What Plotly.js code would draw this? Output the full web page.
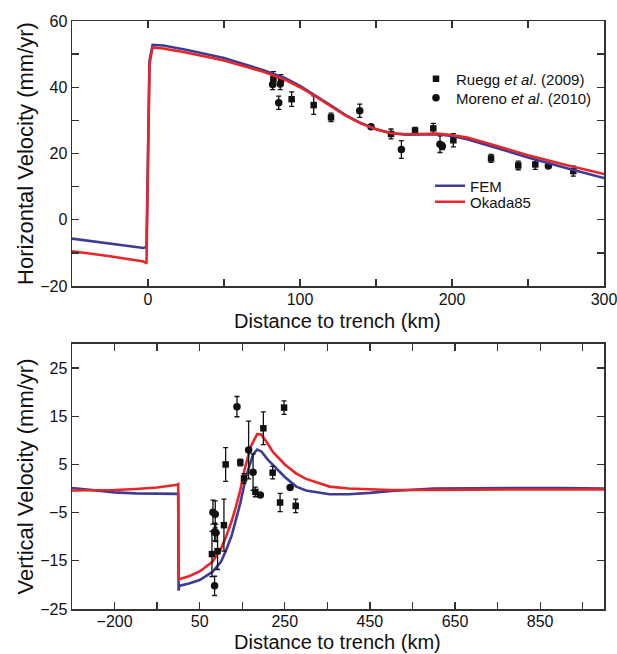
<!DOCTYPE html>
<html>
<head>
<meta charset="utf-8">
<script src="https://cdn.plot.ly/plotly-3.0.1.min.js"></script>
<style>html,body{margin:0;padding:0;background:#fff;}#chart{width:617px;height:654px;}</style>
</head>
<body>
<div id="chart"></div>
<script>
// ---------- Top panel: horizontal velocity ----------
const topFemX  = [-50, -25, -3, -1, 1, 3, 10, 25, 50, 75, 90, 100, 110, 120, 130, 140, 150, 160, 170, 180, 190, 200, 210, 225, 250, 275, 300];
const topFemY  = [-5.7, -7.1, -8.5, -8.2, 48, 52.8, 52.6, 51.3, 48.8, 45.3, 42.8, 40.4, 37.6, 34.6, 31.6, 29.2, 27.3, 26.1, 25.7, 25.8, 25.8, 25.3, 24.3, 22.3, 18.8, 15.6, 12.6];
const topOkaX  = [-50, -25, -3, -1, 1, 3, 10, 25, 50, 75, 90, 100, 110, 120, 130, 140, 150, 160, 170, 180, 190, 200, 210, 225, 250, 275, 300];
const topOkaY  = [-9.5, -11.0, -12.6, -13.2, 47, 52.0, 51.7, 50.5, 48.1, 44.8, 42.3, 40.0, 37.3, 34.3, 31.4, 29.1, 27.3, 26.1, 25.8, 25.9, 26.0, 25.6, 24.8, 22.9, 19.5, 16.5, 13.8];

const topSqX   = [82.5, 87.5, 94.5, 109, 120.4, 159.9, 175.7, 187.7, 200.9, 225.7, 243.6, 254.8, 279.8];
const topSqY   = [42.5, 42.3, 36.4, 34.6, 30.9, 25.9, 26.9, 27.6, 24.0, 18.5, 16.4, 16.7, 14.7];
const topSqErr = [2.2, 1.5, 2.2, 2.8, 1.3, 1.5, 1.0, 1.5, 2.0, 1.2, 1.3, 1.5, 1.5];
const topCiX   = [82, 87, 86, 139.3, 146.7, 166.7, 192.1, 193.6, 263.4];
const topCiY   = [40.8, 41.0, 35.3, 32.9, 28.1, 21.2, 22.8, 22.2, 16.2];
const topCiErr = [1.5, 1.7, 2.0, 2.0, 0.5, 2.7, 2.5, 1.0, 0.4];

// ---------- Bottom panel: vertical velocity ----------
const botFemX  = [-250, -200, -150, -100, -50, -3, -0.5, 0.5, 2, 25, 50, 80, 100, 112, 125, 135, 145, 159, 175, 185, 195, 210, 222, 250, 277, 300, 355, 400, 450, 500, 600, 700, 800, 900, 1000];
const botFemY  = [0.1, -0.4, -0.8, -1.0, -1.1, -1.1, -1.1, -21.2, -20.2, -19.7, -19.0, -17.3, -15.2, -12.8, -9.8, -6.5, -3.2, 2.5, 7.0, 8.1, 7.7, 6.0, 4.9, 2.4, 0.4, -0.4, -1.2, -1.2, -0.9, -0.5, 0.0, 0.1, 0.1, 0.1, 0.0];
const botOkaX  = [-250, -200, -150, -100, -50, -3, -0.5, 0.5, 2, 25, 50, 80, 100, 112, 125, 135, 145, 155, 170, 185, 195, 210, 222, 250, 277, 300, 355, 400, 450, 500, 600, 700, 800, 900, 1000];
const botOkaY  = [-0.4, -0.4, -0.3, -0.1, 0.2, 0.8, 0.9, -19.0, -18.8, -18.2, -17.2, -15.2, -12.5, -10.0, -6.8, -3.8, -0.5, 3.8, 8.7, 11.3, 11.2, 9.3, 7.6, 5.0, 3.1, 2.0, 0.4, 0.0, -0.2, -0.3, -0.3, -0.2, -0.2, -0.2, -0.2];

const botSqX   = [248.3, 199.6, 111, 145.5, 154.2, 221.5, 180.8, 238.9, 275.6, 107, 78.8, 92];
const botSqY   = [16.8, 12.5, 5.0, 5.4, 2.1, 3.3, -0.7, -2.9, -3.6, -7.6, -13.6, -13.0];
const botSqErr = [1.4, 3.4, 3.5, 0.7, 1.0, 1.3, 1.0, 1.9, 1.4, 5.4, 4.7, 3.8];
const botCiX   = [137.6, 165, 175.4, 192.5, 262.5, 81.2, 86.6, 85, 88, 85];
const botCiY   = [17.0, 8.0, 3.4, -1.35, 0.2, -4.9, -5.35, -9.0, -9.2, -20.2];
const botCiErr = [2.1, 6.0, 3.8, 0, 0, 2.5, 2.8, 1.8, 1.8, 2.0];

// ---------- Tick labels ----------
const topXTicks  = [0, 50, 100, 150, 200, 250, 300];
const topXLabels = ['0', '', '100', '', '200', '', '300'];
const topYTicks  = [-20, -10, 0, 10, 20, 30, 40, 50, 60];
const topYLabels = ['\u221220', '', '0', '', '20', '', '40', '', '60'];
const botXTicks  = [-150, -50, 50, 150, 250, 350, 450, 550, 650, 750, 850, 950];
const botXLabels = ['\u2212200', '', '50', '', '250', '', '450', '', '650', '', '850', ''];
const botYTicks  = [-25, -15, -5, 5, 15, 25];
const botYLabels = ['\u221225', '\u221215', '\u22125', '5', '15', '25'];

const FEM_COLOR = '#3c3c96';
const OKA_COLOR = '#e8262a';
const PT_COLOR = '#111111';
const FONT = 'Liberation Sans, Arial, sans-serif';

function errs(arr){ return {type:'data', array: arr, visible:true, color: PT_COLOR, thickness:1.3, width:2.5}; }

const traces = [
  {x: topSqX, y: topSqY, error_y: errs(topSqErr), mode:'markers', name:'Ruegg <i>et al</i>. (2009)', marker:{symbol:'square', size:6.5, color:PT_COLOR}, xaxis:'x', yaxis:'y', legend:'legend'},
  {x: topCiX, y: topCiY, error_y: errs(topCiErr), mode:'markers', name:'Moreno <i>et al</i>. (2010)', marker:{symbol:'circle', size:7.5, color:PT_COLOR}, xaxis:'x', yaxis:'y', legend:'legend2'},
  {x: topFemX, y: topFemY, mode:'lines', name:'FEM', line:{color:FEM_COLOR, width:2.6}, xaxis:'x', yaxis:'y', legend:'legend3'},
  {x: topOkaX, y: topOkaY, mode:'lines', name:'Okada85', line:{color:OKA_COLOR, width:2.6}, xaxis:'x', yaxis:'y', legend:'legend4'},
  {x: botFemX, y: botFemY, mode:'lines', showlegend:false, line:{color:FEM_COLOR, width:2.6}, xaxis:'x2', yaxis:'y2'},
  {x: botOkaX, y: botOkaY, mode:'lines', showlegend:false, line:{color:OKA_COLOR, width:2.6}, xaxis:'x2', yaxis:'y2'},
  {x: botSqX, y: botSqY, error_y: errs(botSqErr), mode:'markers', showlegend:false, marker:{symbol:'square', size:6.5, color:PT_COLOR}, xaxis:'x2', yaxis:'y2'},
  {x: botCiX, y: botCiY, error_y: errs(botCiErr), mode:'markers', showlegend:false, marker:{symbol:'circle', size:7.5, color:PT_COLOR}, xaxis:'x2', yaxis:'y2'}
];

const axisCommon = {
  showline:true, linecolor:'#333', linewidth:1.5, mirror:'ticks',
  ticks:'inside', ticklen:7, tickwidth:1.3, tickcolor:'#333',
  showgrid:false, zeroline:false, tickmode:'array', automargin:false,
  ticklabeloverflow:'allow',
  tickfont:{family:FONT, size:16, color:'#111'}
};

function leg(x, y){
  return {x:x, y:y, xanchor:'left', yanchor:'middle', bgcolor:'rgba(0,0,0,0)',
    font:{family:FONT, size:15, color:'#111'}, itemwidth:30, tracegroupgap:0};
}

const titleFont = {family:FONT, size:22, color:'#111'};
const xTitleFont = {family:FONT, size:20, color:'#111'};

const layout = {
  width:617, height:654,
  paper_bgcolor:'#fff', plot_bgcolor:'#fff',
  margin:{l:72, r:13, t:21, b:45},
  showlegend:true,
  font:{family:FONT, color:'#111'},
  xaxis: Object.assign({}, axisCommon, {
    domain:[0,1], anchor:'y', range:[-50,300], tickvals: topXTicks, ticktext: topXLabels,
    ticklabelstandoff:-2
  }),
  yaxis: Object.assign({}, axisCommon, {
    domain:[0.5493,1], anchor:'x', range:[-20,60], tickvals: topYTicks, ticktext: topYLabels,
    title:{text:'Horizontal Velocity (mm/yr)', font:titleFont, standoff:0}
  }),
  xaxis2: Object.assign({}, axisCommon, {
    domain:[0,1], anchor:'y2', range:[-250,1000], tickvals: botXTicks, ticktext: botXLabels,
    ticklabelstandoff:-3
  }),
  yaxis2: Object.assign({}, axisCommon, {
    domain:[0,0.4507], anchor:'x2', range:[-25,30], tickvals: botYTicks, ticktext: botYLabels,
    title:{text:'Vertical Velocity (mm/yr)', font:titleFont, standoff:0}
  }),
  annotations: [
    {text:'Distance to trench (km)', xref:'paper', yref:'paper', x:0.499, y:0.4898,
     xanchor:'center', yanchor:'middle', showarrow:false, borderpad:0, font:xTitleFont},
    {text:'Distance to trench (km)', xref:'paper', yref:'paper', x:0.499, y:-0.0762,
     xanchor:'center', yanchor:'bottom', showarrow:false, borderpad:0, font:xTitleFont}
  ],
  legend:  leg(0.6466, 0.9014),
  legend2: leg(0.6466, 0.869),
  legend3: leg(0.673, 0.7194),
  legend4: leg(0.673, 0.6922)
};

Plotly.newPlot('chart', traces, layout, {displayModeBar:false, staticPlot:true});
</script>
</body>
</html>
